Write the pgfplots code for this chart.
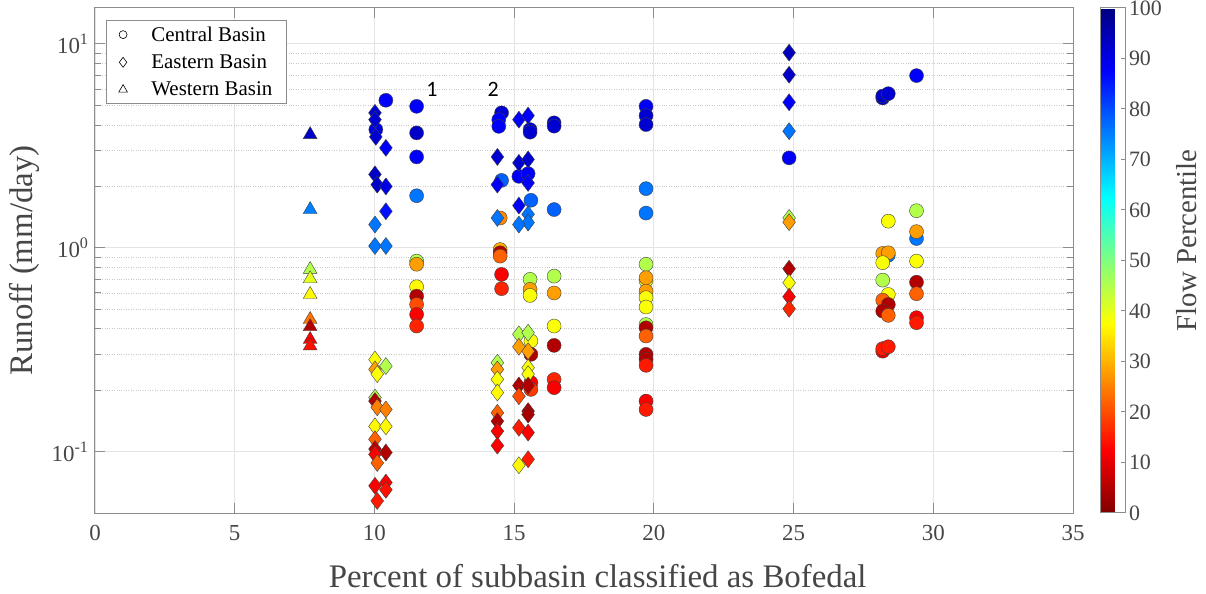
\documentclass[border=0pt]{standalone}
\usepackage{pgfplots}
\pgfplotsset{compat=1.18}
\usepackage{pgfplotstable}
\usepackage{fontspec}
\setmainfont{Liberation Serif}
\newfontfamily\calfont{Carlito}
\definecolor{axgray}{RGB}{140,140,140}
\definecolor{txtgray}{RGB}{70,70,70}
\definecolor{gridgray}{RGB}{228,228,228}
\definecolor{mgridgray}{RGB}{200,200,200}

% Western Basin (triangles): x y percentile
\pgfplotstableread{
x y c
7.70 3.59 93
7.70 1.54 75
7.70 0.783 45
7.70 0.705 40
7.70 0.59 37
7.70 0.445 24
7.70 0.41 5
7.70 0.355 12
7.70 0.33 14
}\western

% Eastern Basin (diamonds)
\pgfplotstableread{
x y c
10.02 4.59 92
10.02 4.25 92
10.05 3.50 92
10.41 3.09 88
10.02 2.29 93
10.10 2.04 93
10.41 2.00 90
10.41 1.51 86
10.02 1.30 76
10.02 1.02 76
10.41 1.02 76
10.02 0.283 38
10.41 0.263 45
10.02 0.253 28
10.10 0.240 38
10.02 0.184 45
10.02 0.177 5
10.10 0.165 25
10.41 0.161 25
10.02 0.133 37
10.41 0.133 37
10.02 0.115 22
10.02 0.103 6
10.41 0.099 5
10.02 0.097 12
10.10 0.088 22
10.02 0.068 12
10.41 0.0705 12
10.41 0.065 14
10.10 0.0573 15
14.40 2.79 92
14.40 2.04 88
14.40 1.40 76
14.40 0.273 45
14.40 0.253 28
14.40 0.226 38
14.40 0.195 37
14.40 0.155 22
14.40 0.141 5
14.40 0.126 12
14.40 0.107 12
15.17 4.25 88
15.50 4.45 88
15.17 2.61 92
15.50 2.71 92
15.50 2.08 88
15.17 1.61 88
15.50 1.46 76
15.50 1.33 76
15.17 1.30 76
15.17 0.376 45
15.50 0.383 45
15.17 0.327 28
15.50 0.311 28
15.50 0.258 38
15.50 0.240 38
15.17 0.211 5
15.50 0.211 5
15.17 0.187 20
15.50 0.158 5
15.50 0.152 4
15.17 0.131 15
15.50 0.124 12
15.50 0.0917 15
15.17 0.0857 37
24.84 9.06 94
24.84 7.06 93
24.84 5.17 88
24.84 3.73 76
24.84 1.40 45
24.84 1.335 28
24.84 0.789 5
24.84 0.674 38
24.84 0.575 12
24.84 0.502 16
}\eastern

% Central Basin (circles)
\pgfplotstableread{
x y c
10.41 5.29 88
10.05 3.80 90
11.51 4.94 88
11.51 3.66 93
11.51 2.79 88
11.51 1.80 76
11.51 0.86 45
11.51 0.83 28
11.51 0.644 37
11.51 0.579 5
11.51 0.527 20
11.51 0.471 12
11.51 0.413 16
14.55 4.59 92
14.45 4.25 88
14.45 3.94 88
14.55 2.14 78
14.50 1.40 26
14.50 0.98 30
14.50 0.945 5
14.50 0.91 22
14.55 0.74 12
14.55 0.63 16
15.57 3.80 92
15.57 3.69 92
15.17 2.24 88
15.50 2.31 88
15.60 1.71 78
15.57 0.70 45
15.57 0.625 28
15.57 0.584 38
15.60 0.349 38
15.60 0.30 5
15.60 0.218 12
15.60 0.202 18
16.43 4.10 92
16.43 3.95 92
16.43 1.54 78
16.43 0.726 45
16.43 0.60 28
16.43 0.413 38
16.43 0.332 5
16.43 0.226 16
16.43 0.206 12
19.72 4.94 88
19.72 4.45 92
19.72 4.02 92
19.72 1.95 76
19.72 1.48 76
19.72 0.83 45
19.72 0.69 38
19.72 0.713 28
19.72 0.613 28
19.72 0.569 38
19.72 0.512 38
19.72 0.42 45
19.72 0.405 5
19.72 0.369 22
19.72 0.30 5
19.72 0.284 5
19.72 0.265 15
19.72 0.177 12
19.72 0.161 15
24.84 2.76 88
28.19 5.43 93
28.19 5.55 93
28.39 5.70 92
29.40 6.99 88
29.40 1.52 45
28.39 1.35 38
29.40 1.11 76
29.40 1.20 28
28.39 0.92 76
28.19 0.938 28
28.39 0.945 28
28.19 0.845 38
29.40 0.86 38
28.19 0.694 45
29.40 0.678 5
28.39 0.59 38
29.40 0.595 22
28.19 0.553 22
28.39 0.527 5
28.19 0.489 5
28.39 0.466 22
29.40 0.454 12
29.40 0.429 15
28.19 0.311 10
28.19 0.32 15
28.39 0.327 15
}\central

\begin{document}
\begin{tikzpicture}
\begin{axis}[
  name=ax,
  scale only axis,
  width=978bp, height=505bp,
  xmin=0, xmax=35, ymin=0.05, ymax=15,
  ymode=log,
  xtick={0,5,...,35},
  ytick={0.1,1,10},
  yticklabels={10\textsuperscript{-1},10\textsuperscript{0},10\textsuperscript{1}},
  xmajorgrids, ymajorgrids, yminorgrids,
  major grid style={gridgray, line width=0.8bp},
  minor grid style={mgridgray, dotted, line width=0.8bp},
  axis line style={axgray, line width=1bp},
  tick style={axgray, line width=1bp},
  major tick length=10bp, minor tick length=6bp,
  tick align=inside,
  tick pos=both,
  ticklabel style={font=\fontsize{23}{27}\selectfont, text=txtgray},
  xticklabel style={yshift=-9bp},
  yticklabel style={xshift=-3bp},
  /pgf/number format/assume math mode=true,
  xlabel={Percent of subbasin classified as Bofedal},
  ylabel={Runoff (mm/day)},
  label style={font=\fontsize{33}{38}\selectfont, text=txtgray},
  xlabel style={at={(axis description cs:0.514,-0.125)}, anchor=center},
  ylabel style={at={(axis description cs:-0.072,0.5)}, anchor=center},
  colormap={jetr}{rgb(0pt)=(0.5,0,0); rgb(1pt)=(1,0,0); rgb(3pt)=(1,1,0); rgb(5pt)=(0,1,1); rgb(7pt)=(0,0,1); rgb(8pt)=(0,0,0.5)},
  point meta min=0, point meta max=100,
  colorbar,
  colorbar style={
    scale only axis,
    at={(parent axis.north east)}, anchor=north west, xshift=19bp,
    width=25bp, height=505bp,
    ytick={0,10,...,100},
    ytick pos=right, yticklabel pos=right,
    tick align=inside,
    major tick length=5bp,
    axis line style={axgray, line width=1bp},
    tick style={axgray, line width=1bp},
    yticklabel style={font=\fontsize{22}{26}\selectfont, text=txtgray},
    /pgf/number format/assume math mode=true,
    ylabel={Flow Percentile},
    ylabel style={font=\fontsize{29}{34}\selectfont, text=txtgray, at={(axis description cs:3.45,0.54)}, anchor=center},
  },
  legend style={at={(0.0115,0.976)}, anchor=north west, draw=axgray, line width=1bp,
    font=\fontsize{21}{25}\selectfont, text=black, row sep=8bp, inner xsep=12bp, inner ysep=4bp,
    /tikz/every odd column/.append style={column sep=22bp}},
  legend cell align=left,
]
\addplot[scatter, only marks, scatter src=explicit, mark=*, mark size=7bp,
  scatter/use mapped color={draw=black!75, fill=mapped color}, forget plot]
  table[x=x, y=y, meta=c] {\central};
\addplot[scatter, only marks, scatter src=explicit, mark=diamond*, mark size=8.5bp,
  scatter/use mapped color={draw=black!75, fill=mapped color}, forget plot]
  table[x=x, y=y, meta=c] {\eastern};
\addplot[scatter, only marks, scatter src=explicit, mark=triangle*, mark size=8bp,
  scatter/use mapped color={draw=black!75, fill=mapped color}, forget plot]
  table[x=x, y=y, meta=c] {\western};
\addlegendimage{only marks, mark=o, mark size=4bp, black, line width=0.6bp}
\addlegendentry{Central Basin}
\addlegendimage{only marks, mark=diamond, mark size=5bp, black, line width=0.6bp}
\addlegendentry{Eastern Basin}
\addlegendimage{only marks, mark=triangle, mark size=5bp, black, line width=0.6bp}
\addlegendentry{Western Basin}
\node[font=\calfont\fontsize{22}{26}\selectfont, text=black] at (axis cs:12.06,5.97) {1};
\node[font=\calfont\fontsize{22}{26}\selectfont, text=black] at (axis cs:14.25,5.97) {2};
\end{axis}
\pgfresetboundingbox
\path (ax.south west) ++(-95bp,-81bp) rectangle ++(1206bp,594bp);
\end{tikzpicture}
\end{document}
